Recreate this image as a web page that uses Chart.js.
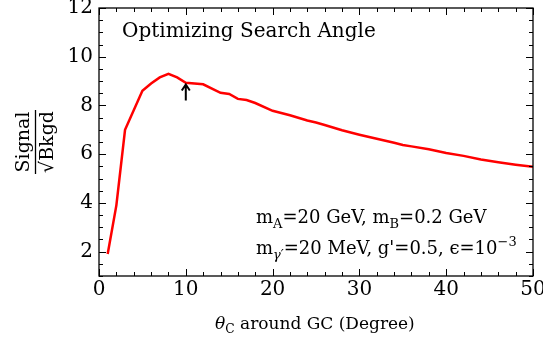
<!DOCTYPE html>
<html>
<head>
<meta charset="utf-8">
<script src="https://cdn.jsdelivr.net/npm/chart.js@4.4.1/dist/chart.umd.min.js"></script>
<style>
  html, body { margin: 0; padding: 0; background: #fff; }
  #wrap { width: 543px; height: 339px; position: relative; }
</style>
</head>
<body>
<div id="wrap"><canvas id="chart"></canvas></div>
<script>
// signal significance vs. search cone half-angle
const angles = [1, 2, 3, 5, 6, 7, 8, 9, 10, 12, 14, 15, 16, 17, 18, 20, 22, 24, 25, 26, 28, 30, 32, 34, 35, 36, 38, 40, 42, 44, 46, 48, 50];
const significance = [1.9, 3.9, 7.0, 8.6, 8.9, 9.15, 9.3, 9.15, 8.93, 8.87, 8.52, 8.47, 8.27, 8.22, 8.1, 7.78, 7.6, 7.38, 7.3, 7.2, 6.98, 6.8, 6.63, 6.47, 6.38, 6.32, 6.2, 6.05, 5.93, 5.78, 5.67, 5.57, 5.48];

const xTicks = [0, 10, 20, 30, 40, 50];
const yTicks = [2, 4, 6, 8, 10, 12];
const xRange = [0, 50];
const yRange = [1, 12];

// arrow marking the chosen angle: x, from y, to y
const arrowMark = [10, 8.2, 8.86];

const FONT = '"DejaVu Serif", "Liberation Serif", serif';

// draws a run of [text, mode] pieces starting at x
function drawRich(ctx, parts, x, y, size) {
  parts.forEach(([txt, mode]) => {
    let s = size, dy = 0, style = '';
    if (mode === 'sub') { s = size * 0.72; dy = size * 0.25; }
    if (mode === 'subit') { s = size * 0.72; dy = size * 0.25; style = 'italic '; }
    if (mode === 'sup') { s = size * 0.72; dy = -size * 0.42; }
    if (mode === 'it') { style = 'italic '; }
    ctx.font = style + s + 'px ' + FONT;
    ctx.fillText(txt, x, y + dy);
    x += ctx.measureText(txt).width;
  });
  return x;
}

const framePlugin = {
  id: 'frame',
  afterDatasetsDraw(chart) {
    const { ctx, chartArea: a, scales: { x, y } } = chart;
    ctx.save();
    ctx.strokeStyle = '#000';
    ctx.lineWidth = 1.3;
    ctx.strokeRect(a.left, a.top, a.right - a.left, a.bottom - a.top);

    // inward ticks on all four sides
    ctx.lineWidth = 1;
    ctx.beginPath();
    for (let v = xRange[0]; v <= xRange[1]; v += 2) {
      const px = Math.round(x.getPixelForValue(v)) + 0.5;
      const len = v % 10 === 0 ? 7 : 4;
      ctx.moveTo(px, a.bottom); ctx.lineTo(px, a.bottom - len);
      ctx.moveTo(px, a.top); ctx.lineTo(px, a.top + len);
    }
    for (let v = yRange[0]; v <= yRange[1] + 1e-9; v += 0.5) {
      const py = Math.round(y.getPixelForValue(v)) + 0.5;
      const len = v % 2 === 0 ? 7 : 4;
      ctx.moveTo(a.left, py); ctx.lineTo(a.left + len, py);
      ctx.moveTo(a.right, py); ctx.lineTo(a.right - len, py);
    }
    ctx.stroke();

    // arrow
    const ax = x.getPixelForValue(arrowMark[0]);
    const ay0 = y.getPixelForValue(arrowMark[1]);
    const ay1 = y.getPixelForValue(arrowMark[2]);
    ctx.lineWidth = 2;
    ctx.beginPath();
    ctx.moveTo(ax, ay0); ctx.lineTo(ax, ay1 + 1);
    ctx.moveTo(ax - 4, ay1 + 6); ctx.lineTo(ax, ay1); ctx.lineTo(ax + 4, ay1 + 6);
    ctx.stroke();

    // text annotations
    ctx.fillStyle = '#000';
    ctx.textBaseline = 'alphabetic';
    ctx.textAlign = 'left';
    ctx.font = '20px ' + FONT;
    ctx.fillText('Optimizing Search Angle', 122, 37);

    drawRich(ctx, [['m', 'n'], ['A', 'sub'], ['=20 GeV, m', 'n'], ['B', 'sub'], ['=0.2 GeV', 'n']], 256, 223, 18);
    drawRich(ctx, [['m', 'n'], ['γ′', 'subit'], ['=20 MeV, g\'=0.5, ', 'n'], ['ϵ', 'n'], ['=10', 'n'], ['−3', 'sup']], 256, 254, 18);

    // x-axis title
    drawRich(ctx, [['θ', 'it'], ['C', 'sub'], [' around GC (Degree)', 'n']], 215, 329, 17);

    // y-axis title: Signal / √Bkgd as a rotated fraction
    ctx.translate(37, 142);
    ctx.rotate(-Math.PI / 2);
    ctx.textAlign = 'center';
    ctx.font = '19px ' + FONT;
    ctx.fillText('Signal', 0, -8);
    ctx.fillText('√Bkgd', 0, 16);
    ctx.lineWidth = 1.3;
    ctx.beginPath();
    ctx.moveTo(-32, -1.5); ctx.lineTo(32, -1.5);
    ctx.stroke();
    ctx.restore();
  }
};

new Chart(document.getElementById('chart'), {
  type: 'line',
  data: {
    datasets: [{
      data: angles.map((a, i) => ({ x: a, y: significance[i] })),
      borderColor: '#ff0000',
      borderWidth: 2.5,
      pointRadius: 0,
      tension: 0,
      fill: false
    }]
  },
  options: {
    responsive: true, maintainAspectRatio: false,
    animation: false,
    layout: { padding: { top: 8, right: 10, left: 0, bottom: 0 } },
    plugins: { legend: { display: false }, tooltip: { enabled: false } },
    scales: {
      x: {
        type: 'linear', min: xRange[0], max: xRange[1],
        afterBuildTicks: (s) => { s.ticks = xTicks.map(v => ({ value: v })); },
        afterFit: (s) => { s.height = 63; s.paddingLeft = 0; s.paddingRight = 0; },
        grid: { display: false, drawTicks: false },
        border: { display: false },
        ticks: { color: '#000', font: { family: FONT, size: 20 }, padding: 2, maxRotation: 0 }
      },
      y: {
        type: 'linear', min: yRange[0], max: yRange[1],
        afterBuildTicks: (s) => { s.ticks = yTicks.map(v => ({ value: v })); },
        afterFit: (s) => { s.width = 99; s.paddingTop = 0; s.paddingBottom = 0; },
        grid: { display: false, drawTicks: false },
        border: { display: false },
        ticks: { color: '#000', font: { family: FONT, size: 20 }, padding: 6 }
      }
    }
  },
  plugins: [framePlugin]
});
</script>
</body>
</html>
